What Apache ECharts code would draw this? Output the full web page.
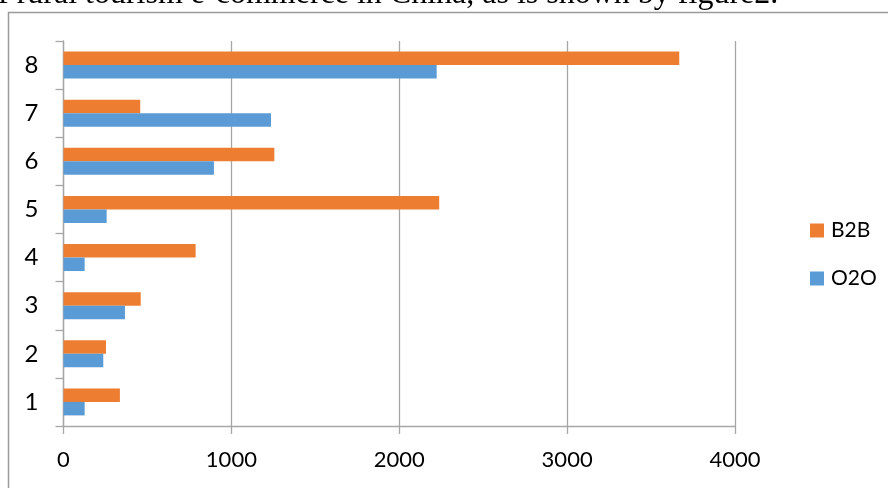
<!DOCTYPE html>
<html>
<head>
<meta charset="utf-8">
<script src="https://cdn.jsdelivr.net/npm/echarts@6/dist/echarts.min.js"></script>
<style>
  html, body { margin: 0; padding: 0; background: #fff; }
  #chart { width: 888px; height: 488px; }
</style>
</head>
<body>
<div id="chart"></div>
<script>
// Category labels (bottom to top) and the two series values
const categories = ['1', '2', '3', '4', '5', '6', '7', '8'];
const b2bValues = [336, 253, 460, 787, 2238, 1256, 457, 3668];
const o2oValues = [126, 237, 366, 126, 257, 896, 1236, 2223];
const xTicks = { min: 0, max: 4000, interval: 1000 };

const chart = echarts.init(document.getElementById('chart'), null, { renderer: 'canvas' });
const axisGray = '#a6a6a6';
const labelFont = 'Lato, "Open Sans", sans-serif';

chart.setOption({
  animation: false,
  backgroundColor: '#ffffff',
  graphic: [
    {
      type: 'text',
      x: -2,
      y: 11,
      style: {
        text: 'f rural tourism e-commerce in China, as is shown by figure2.',
        font: '32px "Liberation Serif", "Times New Roman", serif',
        fill: '#000',
        verticalAlign: 'bottom'
      }
    },
    {
      type: 'rect',
      shape: { x: 8.5, y: 12.5, width: 900, height: 500 },
      style: { fill: 'none', stroke: '#9a9a9a', lineWidth: 1.5 }
    }
  ],
  grid: { left: 63.5, right: 153, top: 41, bottom: 62, containLabel: false },
  legend: {
    data: ['B2B', 'O2O'],
    orient: 'vertical',
    left: 805,
    top: 215,
    itemWidth: 14,
    itemHeight: 14,
    itemGap: 27,
    icon: 'rect',
    textStyle: { fontFamily: labelFont, fontSize: 21, color: '#000', padding: [0, 0, 0, 2] }
  },
  xAxis: {
    type: 'value',
    min: xTicks.min,
    max: xTicks.max,
    interval: xTicks.interval,
    axisLine: { show: true, lineStyle: { color: axisGray, width: 1.3 } },
    axisTick: { show: true, length: 8, lineStyle: { color: axisGray, width: 1.3 } },
    splitLine: { show: true, lineStyle: { color: axisGray, width: 1.3 } },
    axisLabel: {
      fontFamily: labelFont, fontSize: 22, color: '#000', margin: 23,
      formatter: (v) => String(v)
    }
  },
  yAxis: {
    type: 'category',
    data: categories,
    axisLine: { show: true, lineStyle: { color: axisGray, width: 1.3 } },
    axisTick: { show: true, length: 8, lineStyle: { color: axisGray, width: 1.3 } },
    axisLabel: { fontFamily: labelFont, fontSize: 24, color: '#000', margin: 25 }
  },
  series: [
    {
      name: 'B2B',
      type: 'bar',
      data: b2bValues,
      itemStyle: { color: '#ED7D31' },
      barGap: '0%',
      barCategoryGap: '44%'
    },
    {
      name: 'O2O',
      type: 'bar',
      data: o2oValues,
      itemStyle: { color: '#5B9BD5' },
      barGap: '0%',
      barCategoryGap: '44%'
    }
  ]
});
</script>
</body>
</html>
